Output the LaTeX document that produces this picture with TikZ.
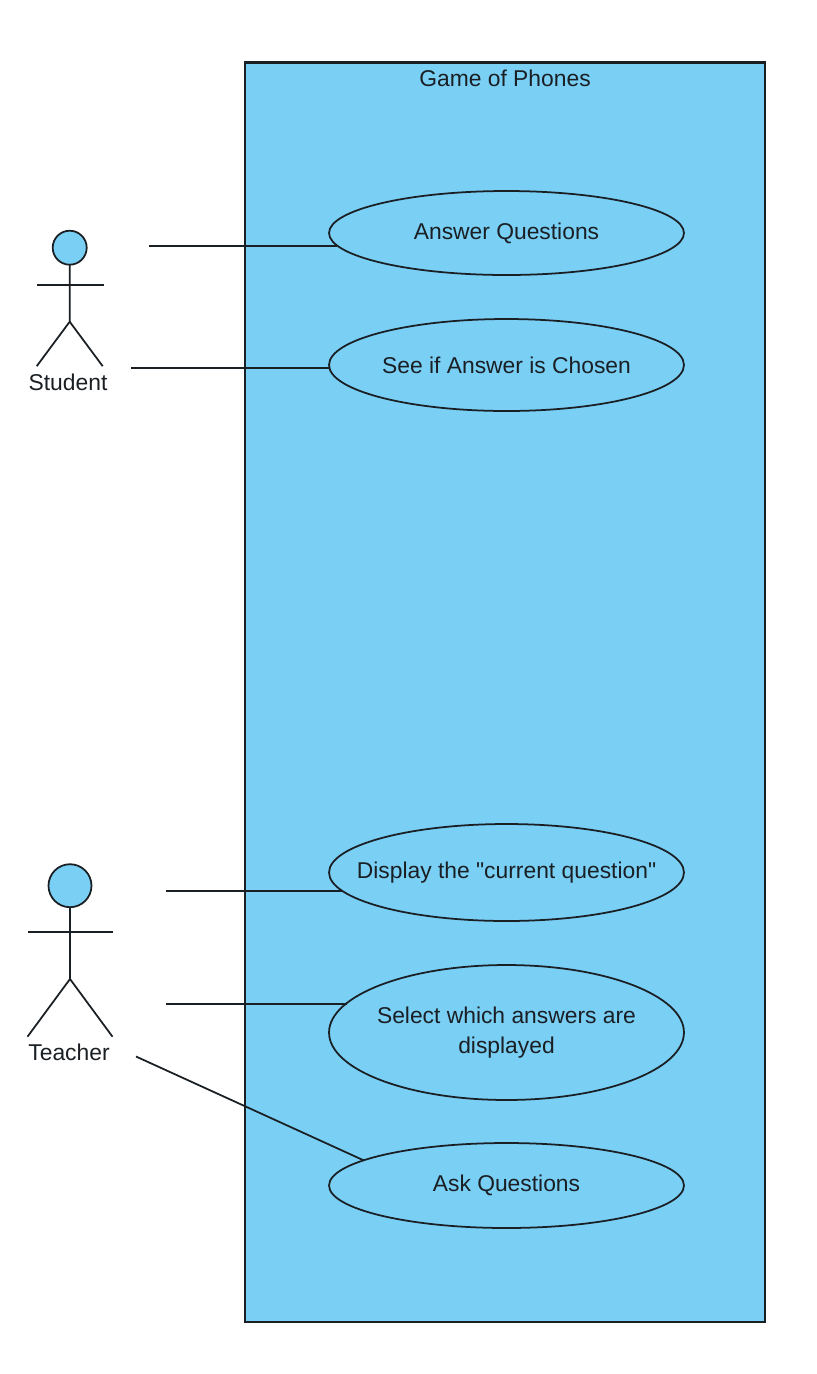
\documentclass[tikz,border=0pt]{standalone}
\usepackage{fontspec}
\newfontfamily\umlfont{Liberation Sans}
\usetikzlibrary{positioning,shapes.geometric}
\definecolor{ink}{HTML}{1A1F24}
\definecolor{sky}{HTML}{7ACFF5}
% zero width, so that the text does not widen the ellipse round it
\newcommand{\caseline}[1]{\makebox[0pt]{#1}}
\begin{document}
\begin{tikzpicture}[x=0.02cm,y=-0.02cm,font=\umlfont\fontsize{13}{17}\selectfont,text=ink,
  sysbox/.style={draw=ink,line width=1.2pt,fill=sky},
  usecase/.style={ellipse,draw=ink,line width=1pt,fill=sky,inner sep=0pt,outer sep=0pt,align=center,minimum width=7.1cm},
  head/.style={circle,draw=ink,line width=1pt,fill=sky,inner sep=0pt,outer sep=0pt},
  stick/.style={draw=ink,line width=1pt},
  assoc/.style={draw=ink,line width=1pt}]
  \useasboundingbox (0,0) rectangle (817,1374);
  \fill[white] (0,0) rectangle (817,1374);
  \draw[sysbox] (245,62.5) rectangle (765,1322);
  \node (title) at (505,78) {Game of Phones};
  % use cases, all in one column at x = 506.5
  \node[usecase,minimum height=1.68cm] (answer)  at (506.5,233)    {\caseline{Answer Questions}};
  \node[usecase,minimum height=1.84cm] (chosen)  at (506.5,365)    {\caseline{See if Answer is Chosen}};
  \node[usecase,minimum height=1.94cm] (current) at (506.5,872.5)  {\caseline{Display the "current question"}};
  \node[usecase,minimum height=2.70cm] (select)  at (506.5,1032.5) {\caseline{Select which answers are}\\\caseline{displayed}};
  \node[usecase,minimum height=1.70cm] (ask)     at (506.5,1185.5) {\caseline{Ask Questions}};
  % student
  \node[head,minimum size=0.68cm] (shead) at (69.7,247.7) {};
  \draw[stick] (shead.south) -- ++(0,57) coordinate (shub) -- ++(-33,44.5);
  \draw[stick] (shub) -- ++(33,44.5);
  \draw[stick] (37,285.3) -- (104,285.3);
  \node (student) at (68,382) {Student};
  % teacher
  \node[head,minimum size=0.86cm] (thead) at (70,885.7) {};
  \draw[stick] (thead.south) -- ++(0,71.8) coordinate (thub) -- ++(-42.5,57.7);
  \draw[stick] (thub) -- ++(42.5,57.7);
  \draw[stick] (28,932) -- (113,932);
  \node (teacher) at (69,1052) {Teacher};
  % free ends of the associations, they stop short of the actors
  \coordinate (sa) at (149,246);
  \coordinate (sb) at (131,368);
  \coordinate (ta) at (166,891);
  \coordinate (tb) at (166,1004);
  \coordinate (tc) at (136,1056.5);
  % level lines, carried on past west to the outline of the ellipse
  \draw[assoc,shorten >=-0.16cm] (sa) -- (sa -| answer.west);
  \draw[assoc] (sb) -- (sb -| chosen.west);
  \draw[assoc,shorten >=-0.26cm] (ta) -- (ta -| current.west);
  \draw[assoc,shorten >=-0.36cm] (tb) -- (tb -| select.west);
  \draw[assoc] (tc) -- (ask.170.3);
\end{tikzpicture}
\end{document}
